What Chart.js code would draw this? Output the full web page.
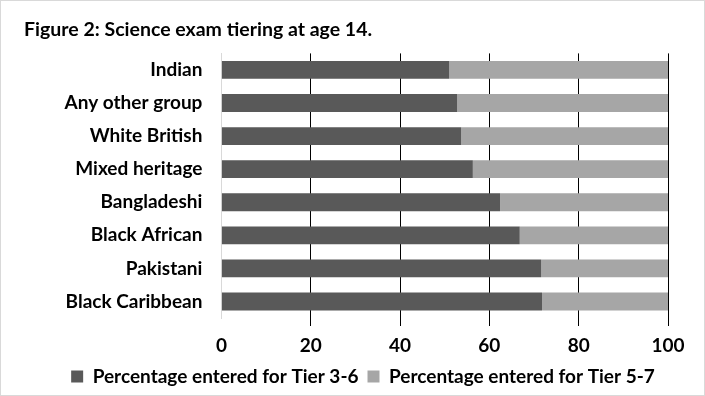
<!DOCTYPE html>
<html>
<head>
<meta charset="utf-8">
<script src="https://cdn.jsdelivr.net/npm/chart.js@4"></script>
<style>
  body { margin: 0; background: #fff; }
  #wrap { width: 705px; height: 396px; position: relative; }
  #wrap canvas { position: absolute; left: 0; top: 0; }
  #frame { position: absolute; left: 0; top: 0; width: 703px; height: 394px; border: 1px solid #d9d9d9; pointer-events: none; }
</style>
</head>
<body>
<div id="wrap">
  <canvas id="chart" width="705" height="396"></canvas>
  <div id="frame"></div>
</div>
<script>
const categories = ["Indian", "Any other group", "White British", "Mixed heritage", "Bangladeshi", "Black African", "Pakistani", "Black Caribbean"];
const tier36 = [51.0, 52.8, 53.7, 56.3, 62.4, 66.8, 71.6, 71.8];
const tier57 = tier36.map(v => +(100 - v).toFixed(1));
const xTicks = [0, 20, 40, 60, 80, 100];

const font = "Lato, 'Open Sans', sans-serif";

// nudge the legend a little to the right, like the original
const shiftLegend = {
  id: "shiftLegend",
  afterLayout(chart) {
    chart.legend.left += 17;
    chart.legend.right += 17;
  }
};

new Chart(document.getElementById("chart"), {
  type: "bar",
  data: {
    labels: categories,
    datasets: [
      { label: "Percentage entered for Tier 3-6", data: tier36, backgroundColor: "#595959", barPercentage: 0.54, categoryPercentage: 1 },
      { label: "Percentage entered for Tier 5-7", data: tier57, backgroundColor: "#a6a6a6", barPercentage: 0.54, categoryPercentage: 1 }
    ]
  },
  plugins: [shiftLegend],
  options: {
    indexAxis: "y",
    responsive: false,
    animation: false,
    layout: { padding: { left: 24, right: 37, top: 8, bottom: 0 } },
    plugins: {
      title: {
        display: true,
        text: "Figure 2: Science exam tiering at age 14.",
        align: "start",
        color: "#000",
        font: { family: font, size: 19.5, weight: "bold" },
        padding: { top: 10, bottom: 12 }
      },
      legend: {
        position: "bottom",
        labels: {
          color: "#000",
          font: { family: font, size: 19, weight: "bold" },
          boxWidth: 12,
          boxHeight: 12,
          padding: 9
        }
      },
      tooltip: { enabled: false }
    },
    scales: {
      x: {
        stacked: true,
        min: 0,
        max: 100,
        afterBuildTicks: s => { s.ticks = xTicks.map(v => ({ value: v })); },
        afterFit: s => { s.height = 40; },
        grid: {
          color: c => c.tick && c.tick.value === 0 ? "#d9d9d9" : "#000",
          tickColor: c => c.tick && c.tick.value === 0 ? "rgba(0,0,0,0)" : "#000",
          tickLength: 8
        },
        border: { display: false },
        ticks: { color: "#000", font: { family: font, size: 19, weight: "bold" }, padding: 8 }
      },
      y: {
        stacked: true,
        afterFit: s => { s.width = 221.4 - 24; },
        grid: { display: false, drawTicks: false },
        border: { color: "#d9d9d9" },
        ticks: { color: "#000", font: { family: font, size: 19, weight: "bold" }, padding: 19 }
      }
    }
  }
});
</script>
</body>
</html>
